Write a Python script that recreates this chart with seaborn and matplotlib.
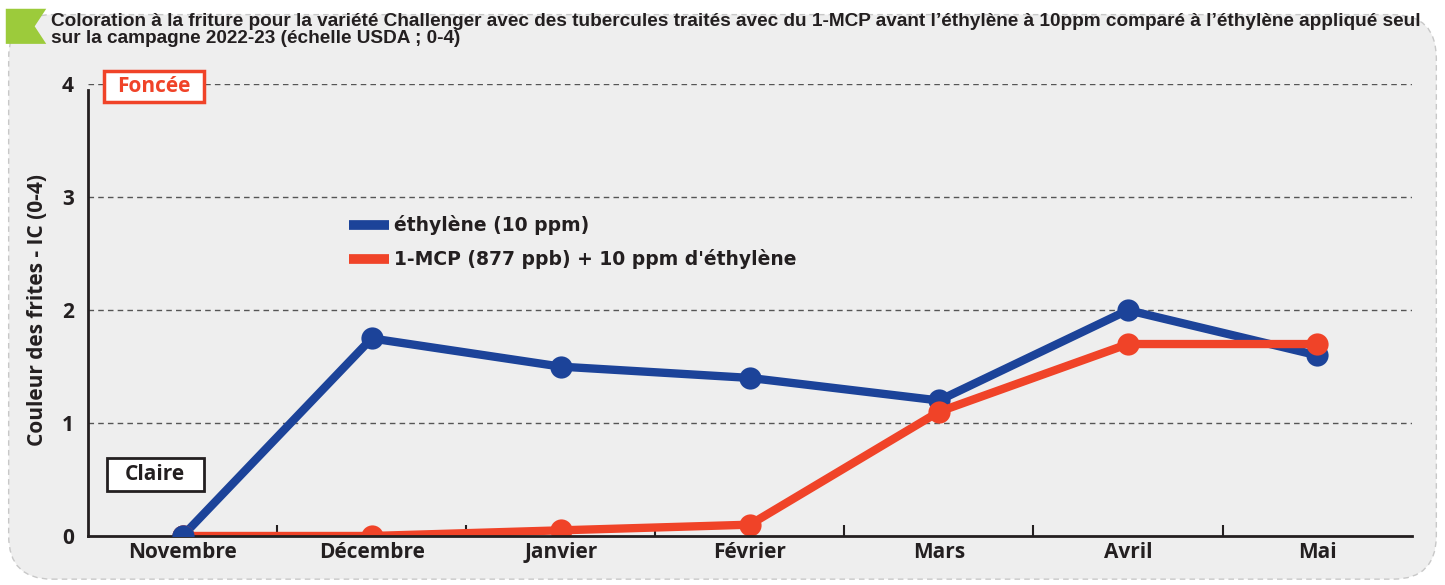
import pandas as pd
import matplotlib.pyplot as plt
import seaborn as sns
from matplotlib.patches import FancyBboxPatch, Polygon, Rectangle

mois = ['Novembre', 'Décembre', 'Janvier', 'Février', 'Mars', 'Avril', 'Mai']
ethylene = [0, 1.75, 1.5, 1.4, 1.2, 2.0, 1.6]
mcp = [0, 0, 0.05, 0.1, 1.1, 1.7, 1.7]
series = ['éthylène (10 ppm)', "1-MCP (877 ppb) + 10 ppm d'éthylène"]
colors = ['#1c4399', '#f04328']

df = pd.DataFrame({
    'x': list(range(len(mois))) * 2,
    'val': ethylene + mcp,
    'serie': [series[0]] * len(mois) + [series[1]] * len(mois),
})

sns.set_style('white')
plt.rcParams['font.family'] = ['Open Sans', 'DejaVu Sans']
txt = '#231f20'

fig = plt.figure(figsize=(14.45, 5.85), dpi=100)
fig.patch.set_facecolor('white')

# grey rounded panel
panel = FancyBboxPatch((0.006, 0.01), 0.988, 0.965, boxstyle='round,pad=0,rounding_size=0.03',
                       transform=fig.transFigure, facecolor='#eeeeee', edgecolor='#c8c8c8',
                       linestyle=(0, (4, 3)), linewidth=1, mutation_aspect=1445 / 585, zorder=-10)
fig.patches.append(panel)
flag = Polygon([(0.004, 0.985), (0.032, 0.985), (0.024, 0.955), (0.032, 0.925), (0.004, 0.925)],
               closed=True, transform=fig.transFigure, facecolor='#9ccb3b', edgecolor='none', zorder=-5)
fig.patches.append(flag)

fig.text(0.035, 0.978, "Coloration à la friture pour la variété Challenger avec des tubercules traités avec du 1-MCP avant l’éthylène à 10ppm comparé à l’éthylène appliqué seul\nsur la campagne 2022-23 (échelle USDA ; 0-4)",
         fontsize=13.7, fontweight='bold', color=txt, va='top', ha='left', linespacing=1.0,
         family=['Liberation Sans', 'DejaVu Sans'])

ax = fig.add_axes([0.0609, 0.0838, 0.916, 0.772])
ax.set_facecolor('none')
ax.set_zorder(2)

sns.lineplot(data=df, x='x', y='val', hue='serie', palette=colors, marker='o',
             markersize=16, markeredgewidth=0, linewidth=6, ax=ax, legend=False)
# first blue point sits above the red line
ax.plot([0], ethylene[:1], marker='o', markersize=16, markeredgewidth=0, color=colors[0],
        linestyle='none', zorder=5)

ax.set_xlim(-0.5, 6.5)
ax.set_ylim(0, 4)
ax.set_yticks([0, 1, 2, 3, 4])
ax.set_yticklabels(['0', '1', '2', '3', '4'], fontsize=15, fontweight='bold', color=txt)
ax.set_xticks(range(len(mois)))
ax.set_xticklabels(mois, fontsize=15, fontweight='bold', color=txt)
ax.set_xticks([i + 0.5 for i in range(6)], minor=True)
ax.tick_params(axis='x', which='major', length=0, pad=4)
ax.tick_params(axis='x', which='minor', bottom=True, length=8, width=1.5, direction='in', color=txt)
ax.tick_params(axis='y', length=0, pad=10)
for y in [1, 2, 3, 4]:
    ax.axhline(y, color='#555555', linestyle=(0, (4, 3)), linewidth=1, zorder=0)
for s in ['top', 'right']:
    ax.spines[s].set_visible(False)
for s in ['left', 'bottom']:
    ax.spines[s].set_color(txt)
    ax.spines[s].set_linewidth(2)
ax.spines['left'].set_bounds(0, 3.95)
ax.set_xlabel('')
ax.set_ylabel('Couleur des frites - IC (0-4)', fontsize=15, fontweight='bold', color=txt, labelpad=10)

# legend
for i, (lab, c) in enumerate(zip(series, colors)):
    ypos = 2.75 - i * 0.3
    ax.plot([0.88, 1.09], [ypos, ypos], color=c, linewidth=7, solid_capstyle='butt')
    ax.text(1.12, ypos, lab, fontsize=13.5, fontweight='bold', color=txt, va='center',
            family=['DejaVu Sans'])

# Foncée / Claire boxes
ax.add_patch(Rectangle((-0.418, 3.84), 0.529, 0.28, facecolor='white', edgecolor='#f04328',
                       linewidth=2.5, clip_on=False, zorder=3))
ax.text(-0.153, 3.98, 'Foncée', fontsize=15, fontweight='bold', color='#f04328', ha='center',
        va='center', zorder=4)
ax.add_patch(Rectangle((-0.402, 0.398), 0.513, 0.292, facecolor='white', edgecolor=txt,
                       linewidth=2, clip_on=False, zorder=3))
ax.text(-0.145, 0.545, 'Claire', fontsize=15, fontweight='bold', color=txt, ha='center',
        va='center', zorder=4)

fig.savefig('out.png', dpi=100)
